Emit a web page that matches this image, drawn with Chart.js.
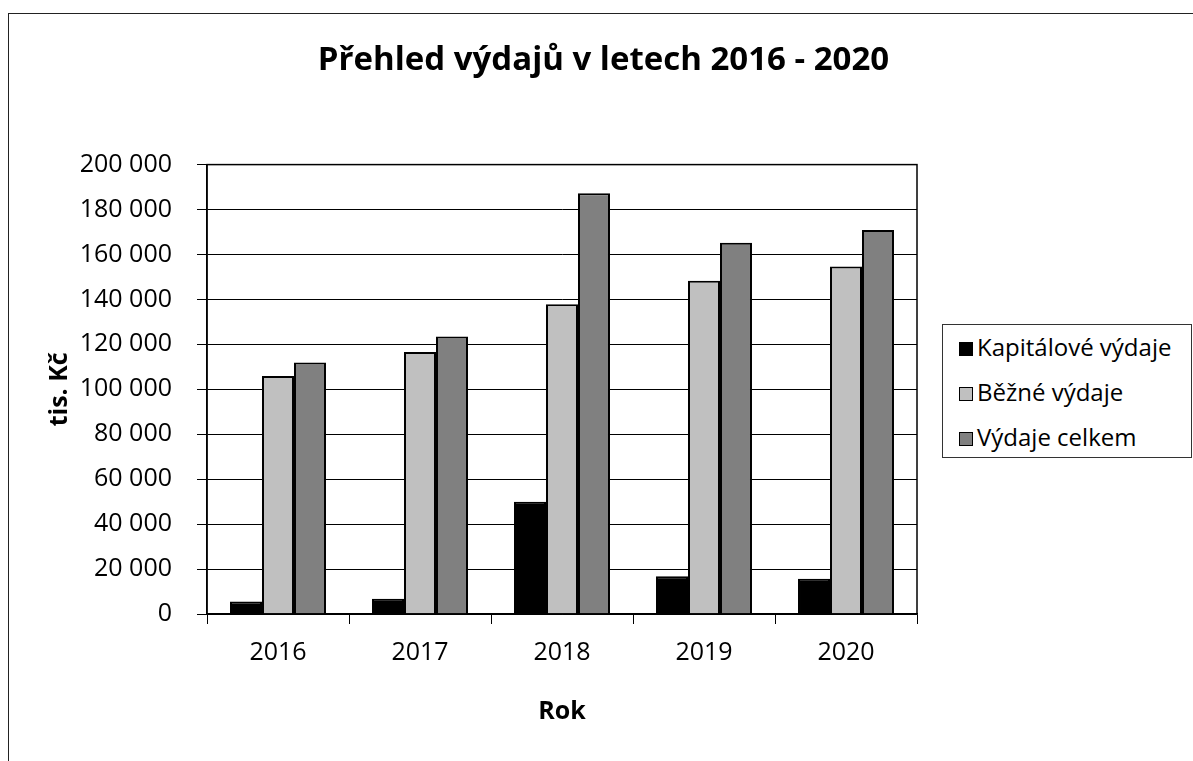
<!DOCTYPE html>
<html>
<head>
<meta charset="utf-8">
<script src="https://cdn.jsdelivr.net/npm/chart.js@4"></script>
<style>
    body { margin: 0; background: #fff; }
    #wrap { position: relative; width: 1193px; height: 761px; overflow: hidden; }
    #frame { position: absolute; left: 8px; top: 13px; width: 1300px; height: 900px; border: 1px solid #222; }
    #legend {
        position: absolute; left: 942px; top: 324px; width: 248px; height: 132px;
        border: 1px solid #333; background: #fff;
        font-family: 'Open Sans', sans-serif; font-size: 24px; color: #000;
    }
    .item { position: absolute; left: 16px; height: 30px; line-height: 30px; white-space: nowrap; }
    .item span.box { display: inline-block; width: 12px; height: 12px; border: 1px solid #000; margin-right: 4px; vertical-align: 0px; }
</style>
</head>
<body>
<div id="wrap">
    <div id="frame"></div>
    <canvas id="vydajeChart"></canvas>
    <div id="legend"></div>
</div>
<script>
const years = ['2016', '2017', '2018', '2019', '2020'];
const kapitalove = [5600, 6800, 49900, 16800, 15700];
const bezne = [105900, 116600, 137900, 148300, 154700];
const celkem = [111900, 123500, 187200, 165200, 170900];
const yTicks = [0, 20000, 40000, 60000, 80000, 100000, 120000, 140000, 160000, 180000, 200000];

const seriesNames = ['Kapitálové výdaje', 'Běžné výdaje', 'Výdaje celkem'];
const seriesColors = ['#000000', '#c0c0c0', '#808080'];

function fmt(v) {
    return String(v).replace(/\B(?=(\d{3})+(?!\d))/g, ' ');
}

// obdelnik kolem plochy grafu
const plotBorder = {
    id: 'plotBorder',
    afterDraw(chart) {
        const { ctx, chartArea: a } = chart;
        ctx.save();
        ctx.strokeStyle = '#000';
        ctx.lineWidth = 1.5;
        ctx.strokeRect(a.left, a.top, a.right - a.left, a.bottom - a.top);
        ctx.restore();
    }
};

document.addEventListener('DOMContentLoaded', function () {
    const ctx = document.getElementById('vydajeChart').getContext('2d');
    const data = [kapitalove, bezne, celkem];

    new Chart(ctx, {
        type: 'bar',
        data: {
            labels: years,
            datasets: data.map((vals, i) => ({
                label: seriesNames[i],
                data: vals,
                backgroundColor: seriesColors[i],
                borderColor: '#000',
                borderWidth: 2,
                categoryPercentage: 0.676,
                barPercentage: 1.0
            }))
        },
        options: {
            responsive: true,
            maintainAspectRatio: false,
            animation: false,
            layout: { padding: { left: 14, right: 0, top: 0, bottom: 34 } },
            plugins: {
                legend: { display: false },
                tooltip: { enabled: false },
                title: {
                    display: true,
                    text: 'Přehled výdajů v letech 2016 - 2020',
                    color: '#000',
                    font: { family: 'Open Sans', size: 33, weight: 'bold', lineHeight: 1.2 },
                    padding: { top: 41, bottom: 84 }
                }
            },
            scales: {
                x: {
                    offset: true,
                    grid: { display: true, offset: true, drawOnChartArea: false, color: '#000', tickLength: 10, tickWidth: 1 },
                    border: { display: true, color: '#000', width: 1.5 },
                    ticks: { color: '#000', padding: 14, font: { family: 'Open Sans', size: 25 } },
                    title: {
                        display: true, text: 'Rok', color: '#000',
                        font: { family: 'Open Sans', size: 25, weight: 'bold', lineHeight: 1.2 },
                        padding: { top: 0, bottom: 0 }
                    },
                    afterFit(s) { s.height = 113; }
                },
                y: {
                    min: 0,
                    max: 200000,
                    afterBuildTicks(s) { s.ticks = yTicks.map(v => ({ value: v })); },
                    grid: { color: '#000', lineWidth: 1, tickLength: 10 },
                    border: { display: true, color: '#000', width: 1.5 },
                    ticks: {
                        color: '#000', padding: 25,
                        font: { family: 'Open Sans', size: 25 },
                        callback: v => fmt(v)
                    },
                    title: {
                        display: true, text: 'tis. Kč', color: '#000',
                        font: { family: 'Open Sans', size: 25, weight: 'bold', lineHeight: 1.2 },
                        padding: { top: 31, bottom: 0 }
                    },
                    afterFit(s) { s.width = 193; }
                },
                yr: {
                    position: 'right',
                    display: true,
                    grid: { display: false },
                    border: { display: false },
                    ticks: { display: false },
                    afterFit(s) { s.width = 276; }
                }
            }
        },
        plugins: [plotBorder]
    });

    const legend = document.getElementById('legend');
    seriesNames.forEach((name, i) => {
        const item = document.createElement('div');
        item.className = 'item';
        item.style.top = (7 + i * 45) + 'px';
        item.innerHTML = '<span class="box" style="background:' + seriesColors[i] + '"></span>' + name;
        legend.appendChild(item);
    });
});
</script>
</body>
</html>
